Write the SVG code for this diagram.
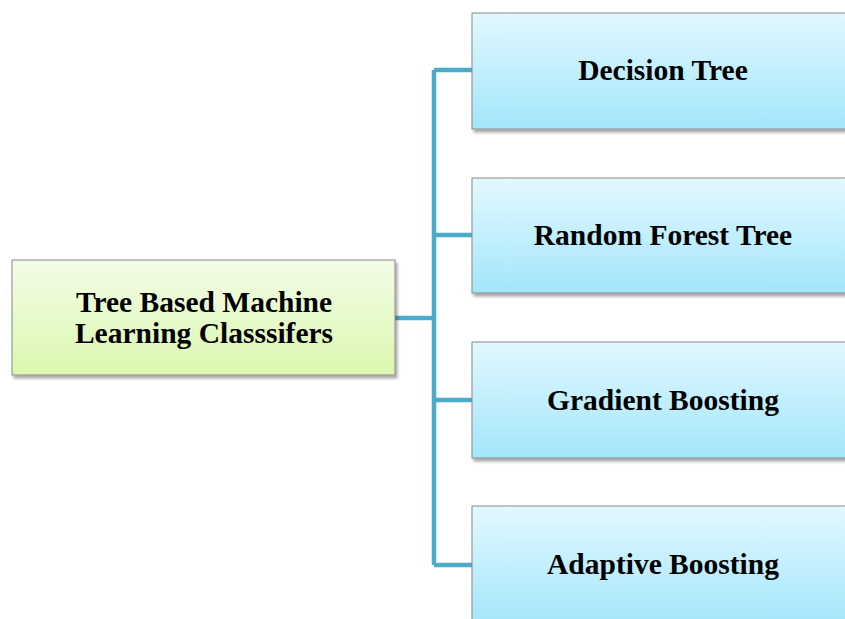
<svg xmlns="http://www.w3.org/2000/svg" width="845" height="619" viewBox="0 0 845 619">
<defs>
<linearGradient id="gBlue" x1="0" y1="0" x2="0" y2="1">
<stop offset="0" stop-color="#e2f8fe"/>
<stop offset="1" stop-color="#a3e6fb"/>
</linearGradient>
<linearGradient id="gGreen" x1="0" y1="0" x2="0" y2="1">
<stop offset="0" stop-color="#f3fce8"/>
<stop offset="1" stop-color="#dbf8ae"/>
</linearGradient>
<filter id="sh" x="-10%" y="-10%" width="120%" height="130%">
<feGaussianBlur in="SourceAlpha" stdDeviation="1.5"/>
<feOffset dx="2" dy="3" result="b"/>
<feComponentTransfer><feFuncA type="linear" slope="0.35"/></feComponentTransfer>
<feMerge><feMergeNode/><feMergeNode in="SourceGraphic"/></feMerge>
</filter>
</defs>
<style>
.box{stroke:#8a8a8a;stroke-width:1;filter:url(#sh)}
.blue{fill:url(#gBlue)}
.green{fill:url(#gGreen)}
.t{font-family:"Liberation Serif","Times New Roman",serif;font-weight:bold;font-size:29.5px;fill:#000;text-anchor:middle}
.c{fill:none;stroke:#4aacc6;stroke-width:4.5;stroke-linejoin:miter}
</style>
<rect width="845" height="619" fill="#fff"/>
<g id="connectors">
<path class="c" d="M395 318 H434 M434 70 V565 M434 70 H472 M434 235 H472 M434 400 H472 M434 565 H472"/>
</g>
<g id="root">
<rect class="box green" x="12" y="260" width="383" height="115"/>
<text class="t" x="204" y="312">Tree Based Machine</text>
<text class="t" x="204" y="343">Learning  Classsifers</text>
</g>
<g id="n1">
<rect class="box blue" x="472" y="13" width="385" height="116"/>
<text class="t" x="663" y="80">Decision Tree</text>
</g>
<g id="n2">
<rect class="box blue" x="472" y="178" width="385" height="115"/>
<text class="t" x="663" y="245">Random Forest Tree</text>
</g>
<g id="n3">
<rect class="box blue" x="472" y="342" width="385" height="116"/>
<text class="t" x="663" y="410">Gradient Boosting</text>
</g>
<g id="n4">
<rect class="box blue" x="472" y="506" width="385" height="120"/>
<text class="t" x="663" y="574">Adaptive Boosting</text>
</g>
</svg>
